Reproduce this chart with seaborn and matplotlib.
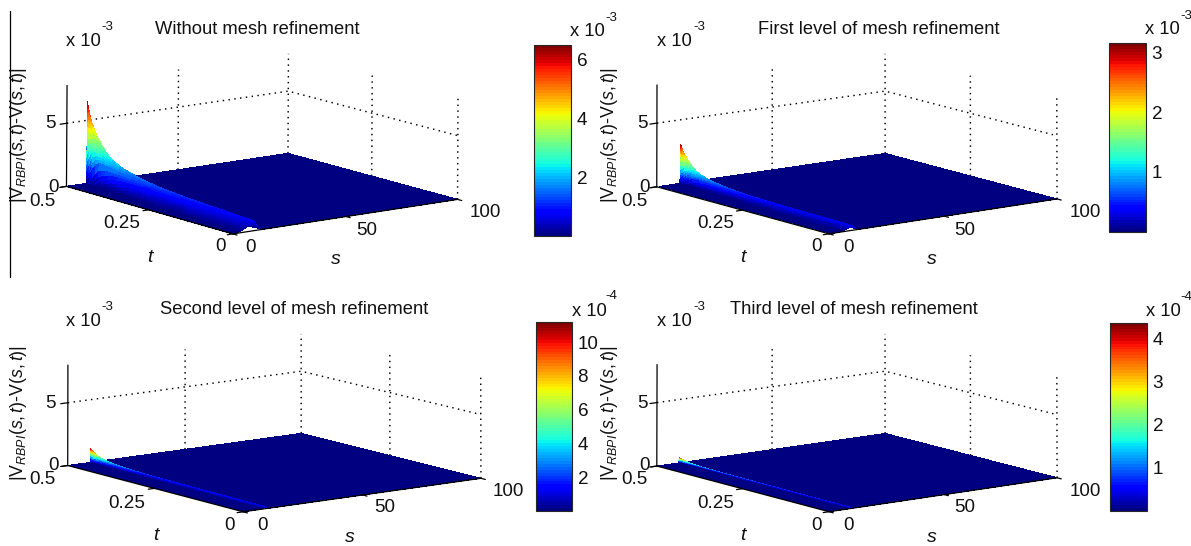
import numpy as np
import matplotlib
matplotlib.use("Agg")
import matplotlib.pyplot as plt
from matplotlib.lines import Line2D
from matplotlib.cm import ScalarMappable
from matplotlib.colors import Normalize
import seaborn as sns

sns.set_theme(style="white")
plt.rcParams["font.family"] = ["Liberation Sans", "DejaVu Sans"]
plt.rcParams["mathtext.fontset"] = "custom"
plt.rcParams["mathtext.rm"] = "Liberation Sans"
plt.rcParams["mathtext.it"] = "Liberation Sans:italic"
plt.rcParams["mathtext.bf"] = "Liberation Sans:bold"

W, H = 1191, 546

# ---------------- data ----------------
titles = ["Without mesh refinement", "First level of mesh refinement",
          "Second level of mesh refinement", "Third level of mesh refinement"]
t_rows = [.5, .499, .497, .494, .49, .485, .48, .47, .46, .45, .44, .43, .42, .40, .38,
          .36, .34, .32, .30, .27, .24, .21, .18, .15, .12, .09, .06, .03, .01, 0]
# crest height of the error along t, in units of 1e-3
crest_1 = [0, 6.5, 6.2, 5.8, 5.3, 4.9, 4.6, 4.0, 3.6, 3.2, 2.85, 2.6, 2.4, 2.1, 1.9,
           1.75, 1.6, 1.5, 1.4, 1.28, 1.2, 1.13, 1.07, 1.02, .97, .92, .87, .82, .8, .78]
crest_2 = [0, 3.1, 2.95, 2.75, 2.5, 2.3, 2.1, 1.75, 1.45, 1.25, 1.12, 1.02, .95, .82, .72,
           .65, .6, .56, .53, .49, .46, .44, .42, .41, .40, .39, .38, .37, .36, .35]
crest_3 = [0, 1.12, 1.05, .98, .88, .78, .7, .58, .5, .45, .4, .36, .33, .29, .26,
           .24, .22, .21, .2, .19, .18, .17, .16, .16, .15, .15, .14, .14, .13, .13]
crest_4 = [0, .43, .41, .38, .34, .3, .27, .23, .2, .18, .16, .15, .14, .13, .12,
           .115, .11, .105, .1, .095, .09, .088, .085, .083, .08, .078, .075, .073, .07, .07]
crests = [crest_1, crest_2, crest_3, crest_4]
# width of the ridge on either side of the crest, along t
left_reach = [.2, .2, .3, .35, .4, .5, .6, .8, 1, 1.2, 1.4, 1.6, 1.8, 2.2, 2.6,
              3, 3.4, 3.8, 4.2, 4.7, 5.2, 5.7, 6.2, 6.7, 7.2, 7.7, 8.1, 8.5, 8.8, 9]
right_reach = [.2, .2, .25, .3, .3, .35, .4, .45, .5, .55, .6, .65, .7, .8, .9,
               1, 1.1, 1.2, 1.3, 1.5, 1.7, 1.9, 2.1, 2.3, 2.5, 2.7, 2.9, 3.1, 3.3, 3.5]
panel_width = [1.0, 0.75, 0.3, 0.2]
crest_s = [9.0, 10.0, 9.5, 9.5]
s_offsets = [-9, -8, -7, -6, -5, -4.3, -3.5, -2.8, -2.2, -1.7, -1.3, -1, -.8, -.6, -.45,
             -.3, -.25, -.2, -.16, -.13, -.1, -.08, -.06, -.05, -.04, -.03, -.02, -.015,
             -.01, -.005, 0, .01, .02, .05, .1, .2, .3, .5, .8, 1.2, 1.7, 2.3, 3, 4, 6,
             15, 30, 50, 70, 91]
left_u = [0, .1, .2, .35, .5, .7, 1]
left_f = [1, .85, .65, .45, .28, .12, 0]
right_u = [0, .5, 1]
right_f = [1, .4, 0]

cbar_max = [6.5, 3.15, 11.2, 4.37]
cbar_unit = [1, 1, 0.1, 0.1]  # colourbar unit in multiples of 1e-3
cbar_ticks = [[2, 4, 6], [1, 2, 3], [2, 4, 6, 8, 10], [1, 2, 3, 4]]
cbar_exp = ["-3", "-3", "-4", "-4"]
s_ticks = [0, 50, 100]
t_ticks = [0, 0.25, 0.5]
z_ticks = [0, 5]
z_top = 8.0

# ---------------- layout, in picture pixels ----------------
# (s, t, z) of the box corners -> where they fall in the picture
box_points = [(0, 0, 0), (100, 0, 0), (100, .5, 0), (0, .5, 0),
              (0, 0, z_top), (100, 0, z_top), (100, .5, z_top), (0, .5, z_top)]
box_pixels = [
    [(233, 234), (458, 199), (287, 152), (67, 188), (233, 128), (458, 100), (289, 53), (67, 86)],
    [(829, 234), (1057, 199), (885, 152), (657, 188), (829, 128), (1057, 100), (885, 53), (657, 86)],
    [(243, 512), (481, 478), (301, 432), (68, 467), (243, 406), (481, 379), (301, 333), (68, 366)],
    [(829, 512), (1057, 478), (885, 432), (657, 467), (829, 406), (1057, 379), (885, 333), (657, 366)],
]
axes_centre = [(262, 145), (857, 145), (275, 425), (857, 425)]
axes_side = 460
cbar_box = [(534, 45, 571, 236), (1109, 43, 1146, 232), (536, 322, 572, 511), (1110, 323, 1147, 511)]
title_xy = [(257, 29), (879, 30), (294, 309), (854, 309)]
x10_xy = [(66, 41), (657, 41), (66, 321), (657, 321)]
exp_xy = [(107, 27), (699, 27), (107, 307), (699, 307)]
ylab_xy = [(19, 135), (610, 135), (19, 413), (610, 413)]
z5_xy = [(50, 124), (642, 124), (50, 403), (642, 403)]
z0_xy = [(53, 187), (644, 187), (53, 466), (644, 466)]
t05_xy = [(42, 201), (634, 201), (42, 479), (634, 479)]
t25_xy = [(122, 224), (716, 224), (127, 503), (716, 503)]
t0_xy = [(220, 247), (816, 247), (230, 525), (816, 525)]
s0_xy = [(251, 248), (848, 248), (262, 525), (848, 525)]
s50_xy = [(367, 230), (965, 230), (385, 508), (965, 508)]
s100_xy = [(485, 213), (1085, 213), (508, 492), (1085, 492)]
tlab_xy = [(150, 257), (743, 257), (156, 535), (743, 535)]
slab_xy = [(336, 260), (932, 260), (350, 538), (932, 538)]
cb_x10_xy = [(570, 32), (1145, 29), (572, 311), (1146, 311)]
cb_exp_xy = [(611, 18), (1186, 16), (611, 296), (1186, 297)]
FS = 13.2
TICK_FS = 13.6

jet = plt.get_cmap("jet", 64)
fig = plt.figure(figsize=(W / 100, H / 100), dpi=100, facecolor="white")


def ptext(xy, s, size=FS, **kw):
    kw.setdefault("ha", "center")
    kw.setdefault("va", "center")
    return fig.text(xy[0] / W, 1 - xy[1] / H, s, fontsize=size, color="#111111", **kw)


def fit_projection(ax, points, pixels):
    """Camera of the 3D axes, fitted to where the box corners fall in the picture."""
    ax.apply_aspect()
    disp = np.array([(x, H - y) for x, y in pixels], float)
    uv = ax.transData.inverted().transform(disp) * 10.0
    scale = np.diag([1 / 100, 1 / .5, 1 / z_top, 1.0])
    X = np.c_[np.asarray(points, float), np.ones(len(points))] @ scale
    rows = []
    for Xi, (u, v) in zip(X, uv):
        rows.append(np.r_[Xi, np.zeros(4), -u * Xi])
        rows.append(np.r_[np.zeros(4), Xi, -v * Xi])
    P = np.linalg.svd(np.array(rows))[2][-1].reshape(3, 4)
    P /= P[2] @ np.array([.5, .5, .5, 1.0])
    M = np.vstack([P[0] / 10, P[1] / 10, [1, 1, 0, 0], P[2]]) @ scale
    ax.get_proj = lambda: M


for i in range(4):
    cx, cy = axes_centre[i]
    ax = fig.add_axes([(cx - axes_side / 2) / W, 1 - (cy + axes_side / 2) / H,
                       axes_side / W, axes_side / H], projection="3d", proj_type="ortho")
    ax.set_axis_off()
    ax.patch.set_visible(False)
    ax.computed_zorder = False

    # surface
    s_grid = np.unique(np.clip(crest_s[i] + np.array(s_offsets), 0, 100))
    t_arr = np.array(t_rows)
    SS, TT = np.meshgrid(s_grid, t_arr)
    lr = np.array(left_reach)[:, None] * panel_width[i]
    rr = np.array(right_reach)[:, None] * panel_width[i]
    du = s_grid[None, :] - crest_s[i]
    frac = np.where(du < 0, np.interp(-du / lr, left_u, left_f), np.interp(du / rr, right_u, right_f))
    Z = np.array(crests[i])[:, None] * frac
    vmax = cbar_max[i] * cbar_unit[i]
    norm = Normalize(0, vmax)
    ax.plot_surface(SS, TT, Z, cmap=jet, norm=norm, rcount=Z.shape[0], ccount=Z.shape[1],
                    linewidth=0, antialiased=False, shade=False, zorder=5)

    # back-plane grid
    dot = dict(color="black", lw=1.05, ls=(0, (1, 3)), zorder=1)
    for sv in (50, 100):
        ax.plot([sv, sv], [.5, .5], [0, z_top], **dot)
    for tv in (.25, 0):
        ax.plot([100, 100], [tv, tv], [0, z_top], **dot)
    ax.plot([0, 100, 100], [.5, .5, 0], [5, 5, 5], **dot)

    # axes lines and ticks
    sol = dict(color="black", lw=0.9, zorder=8)
    ax.plot([0, 100], [0, 0], [0, 0], **sol)
    ax.plot([0, 0], [0, .5], [0, 0], **sol)
    ax.plot([0, 0], [.5, .5], [0, z_top], **sol)
    for sv in s_ticks:
        ax.plot([sv, sv], [0, -.012], [0, 0], **sol)
    for tv in t_ticks:
        ax.plot([0, -2.5], [tv, tv], [0, 0], **sol)
    for zv in z_ticks:
        ax.plot([0, -3], [.5, .5], [zv, zv], **sol)

    fit_projection(ax, box_points, box_pixels[i])

    # text
    ptext(title_xy[i], titles[i], size=FS)
    ptext(x10_xy[i], "x 10", ha="left")
    ptext(exp_xy[i], "-3", size=9.5)
    ptext(ylab_xy[i], r"|V$_{RBPI}$($s,t$)-V($s,t$)|", rotation=90, size=12.8)
    ptext(z5_xy[i], str(z_ticks[1]), size=TICK_FS)
    ptext(z0_xy[i], str(z_ticks[0]), size=TICK_FS)
    ptext(t05_xy[i], "0.5", size=TICK_FS)
    ptext(t25_xy[i], "0.25", size=TICK_FS)
    ptext(t0_xy[i], "0", size=TICK_FS)
    ptext(s0_xy[i], str(s_ticks[0]), size=TICK_FS)
    ptext(s50_xy[i], str(s_ticks[1]), size=TICK_FS)
    ptext(s100_xy[i], str(s_ticks[2]), size=TICK_FS)
    ptext(tlab_xy[i], "t", style="italic", size=14)
    ptext(slab_xy[i], "s", style="italic", size=14)

    # colourbar
    x0, y0, x1, y1 = cbar_box[i]
    cax = fig.add_axes([x0 / W, 1 - y1 / H, (x1 - x0) / W, (y1 - y0) / H])
    cb = fig.colorbar(ScalarMappable(Normalize(0, cbar_max[i]), jet), cax=cax)
    cb.set_ticks(cbar_ticks[i])
    cb.outline.set_linewidth(0.8)
    cax.yaxis.set_ticks_position("both")
    cax.tick_params(axis="y", direction="in", length=2.5, width=0.7, labelsize=TICK_FS, pad=4,
                    labelleft=False, labelright=True, labelcolor="#111111")
    ptext(cb_x10_xy[i], "x 10", ha="left")
    ptext(cb_exp_xy[i], cbar_exp[i], size=9.5)

fig.add_artist(Line2D([10 / W, 10 / W], [1 - 11 / H, 1 - 277 / H], color="black", lw=0.9))
fig.savefig("out.png", dpi=100, facecolor="white")
